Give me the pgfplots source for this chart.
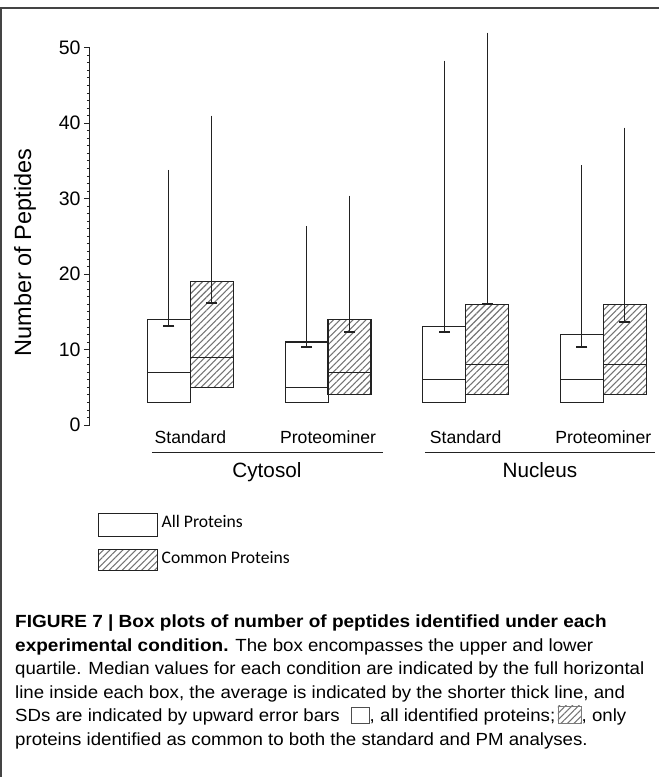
\documentclass[border=0pt]{standalone}
\usepackage{fontspec}
\setmainfont{Liberation Sans}
\newfontfamily\capfont{Liberation Sans}[FakeStretch=1.06]
\newfontfamily\capbold{Liberation Sans Bold}[FakeStretch=1.08]
\newfontfamily\calfont{Carlito}
\usepackage{pgfplots}
\pgfplotsset{compat=1.18}
\usepgfplotslibrary{statistics}
\usetikzlibrary{patterns.meta}
\definecolor{framegray}{HTML}{444444}
\definecolor{hatchgray}{HTML}{747474}
\definecolor{boxline}{HTML}{222222}
\newcommand\capcfg{\capfont\fontsize{17.6}{21}\selectfont}
\newcommand\capbf{\capbold\fontsize{17.6}{21}\selectfont}
\tikzset{hatch/.style={pattern={Lines[angle=45,distance=4.6pt,line width=1.1pt]}, pattern color=hatchgray}}

\begin{document}
\begin{tikzpicture}[x=1pt,y=1pt]
\useasboundingbox (0,0) rectangle (659,777);
\draw[framegray, line width=1.6pt] (1,0) -- (1,769) -- (659,769);
\begin{axis}[
  at={(90pt,352pt)}, anchor=south west,
  scale only axis, width=568.3pt, height=377.3pt,
  xmin=0.27, xmax=4.4, ymin=0, ymax=50,
  clip=false,
  axis x line=none,
  axis y line*=left,
  y axis line style={boxline, line width=1pt},
  ytick={0,10,...,50},
  minor y tick num=9,
  tick align=outside,
  major tick length=6pt, minor tick length=3pt,
  every tick/.style={boxline, line width=0.8pt},
  /pgf/number format/assume math mode=true,
  yticklabel style={font=\fontsize{19.5}{22}\selectfont, text=black},
  boxplot/draw direction=y,
]
% All proteins boxes
\addplot[boxplot/draw direction=y, boxplot prepared={draw position=0.844, lower quartile=3, median=7, upper quartile=14, lower whisker=3, upper whisker=14, box extend=0.3125, whisker extend=0}, draw=boxline, line width=1.1pt, fill=white] coordinates {};
\addplot[boxplot/draw direction=y, boxplot prepared={draw position=1.844, lower quartile=3, median=5, upper quartile=11, lower whisker=3, upper whisker=11, box extend=0.3125, whisker extend=0}, draw=boxline, line width=1.1pt, fill=white] coordinates {};
\addplot[boxplot/draw direction=y, boxplot prepared={draw position=2.844, lower quartile=3, median=6, upper quartile=13, lower whisker=3, upper whisker=13, box extend=0.3125, whisker extend=0}, draw=boxline, line width=1.1pt, fill=white] coordinates {};
\addplot[boxplot/draw direction=y, boxplot prepared={draw position=3.844, lower quartile=3, median=6, upper quartile=12, lower whisker=3, upper whisker=12, box extend=0.3125, whisker extend=0}, draw=boxline, line width=1.1pt, fill=white] coordinates {};
% Common proteins boxes
\addplot[boxplot/draw direction=y, boxplot prepared={draw position=1.156, lower quartile=5, median=9, upper quartile=19, lower whisker=5, upper whisker=19, box extend=0.3125, whisker extend=0}, draw=boxline, line width=1.1pt, hatch] coordinates {};
\addplot[boxplot/draw direction=y, boxplot prepared={draw position=2.156, lower quartile=4, median=7, upper quartile=14, lower whisker=4, upper whisker=14, box extend=0.3125, whisker extend=0}, draw=boxline, line width=1.1pt, hatch] coordinates {};
\addplot[boxplot/draw direction=y, boxplot prepared={draw position=3.156, lower quartile=4, median=8, upper quartile=16, lower whisker=4, upper whisker=16, box extend=0.3125, whisker extend=0}, draw=boxline, line width=1.1pt, hatch] coordinates {};
\addplot[boxplot/draw direction=y, boxplot prepared={draw position=4.156, lower quartile=4, median=8, upper quartile=16, lower whisker=4, upper whisker=16, box extend=0.3125, whisker extend=0}, draw=boxline, line width=1.1pt, hatch] coordinates {};
% means with upward SD error bars
\addplot[only marks, mark=-, mark size=5.5pt, mark options={boxline, line width=2pt},
  error bars/.cd, y dir=plus, y explicit, error mark=-,
  error mark options={boxline, mark size=3pt, line width=1pt},
  error bar style={boxline, line width=1pt}]
coordinates {
(0.844,13.1) +- (0,20.3)
(1.156,16.2) +- (0,24.4)
(1.844,10.3) +- (0,15.7)
(2.156,12.3) +- (0,17.7)
(2.844,12.3) +- (0,35.6)
(3.156,16.1) +- (0,35.5)
(3.844,10.3) +- (0,23.7)
(4.156,13.6) +- (0,25.4)
};
% category labels
\node[anchor=base, inner sep=0pt, font=\fontsize{17.6}{20}\selectfont] at ([yshift=-18.3pt]axis cs:1,0) {Standard};
\node[anchor=base, inner sep=0pt, font=\fontsize{17.6}{20}\selectfont] at ([yshift=-18.3pt]axis cs:2,0) {Proteominer};
\node[anchor=base, inner sep=0pt, font=\fontsize{17.6}{20}\selectfont] at ([yshift=-18.3pt]axis cs:3,0) {Standard};
\node[anchor=base, inner sep=0pt, font=\fontsize{17.6}{20}\selectfont] at ([yshift=-18.3pt]axis cs:4,0) {Proteominer};
\draw[boxline, line width=1.2pt] ([yshift=-27.3pt]axis cs:0.720,0) -- ([yshift=-27.3pt]axis cs:2.399,0);
\draw[boxline, line width=1.2pt] ([yshift=-27.3pt]axis cs:2.704,0) -- ([yshift=-27.3pt]axis cs:4.376,0);
\node[anchor=base, inner sep=0pt, font=\fontsize{20.7}{24}\selectfont] at ([yshift=-53pt]axis cs:1.556,0) {Cytosol};
\node[anchor=base, inner sep=0pt, font=\fontsize{20.7}{24}\selectfont] at ([yshift=-53pt]axis cs:3.540,0) {Nucleus};
\node[rotate=90, inner sep=0pt, font=\fontsize{23.5}{27}\selectfont] at (axis description cs:-0.1144,0.457) {Number of Peptides};
\end{axis}
% legend
\draw[boxline, line width=1pt, fill=white] (98.3,240.3) rectangle (157.7,263);
\node[anchor=base west, inner sep=0pt, font=\calfont\fontsize{17.6}{20}\selectfont] at (161.5,249.5) {All Proteins};
\draw[boxline, line width=1pt, hatch] (98.3,206.3) rectangle (157.7,227.7);
\node[anchor=base west, inner sep=0pt, font=\calfont\fontsize{17.6}{20}\selectfont] at (161.5,213.5) {Common Proteins};
% caption
\node[anchor=base west, inner sep=0pt, font=\capbf] at (15,149) {FIGURE 7 | Box plots of number of peptides identified under each};
\node[anchor=base west, inner sep=0pt, font=\capcfg] at (15,125.5) {{\capbf experimental condition.} The box encompasses the upper and lower};
\node[anchor=base west, inner sep=0pt, font=\capcfg] at (15,102) {quartile. Median values for each condition are indicated by the full horizontal};
\node[anchor=base west, inner sep=0pt, font=\capcfg] at (15,78.5) {line inside each box, the average is indicated by the shorter thick line, and};
\node[anchor=base west, inner sep=0pt, font=\capcfg] (l5a) at (15,55) {SDs are indicated by upward error bars};
\draw[boxline!80, line width=0.9pt] ([shift={(11pt,-1pt)}]l5a.base east) rectangle ++(18pt,16pt);
\node[anchor=base west, inner sep=0pt, font=\capcfg] (l5b) at ([xshift=29.5pt]l5a.base east) {, all identified proteins;};
\draw[boxline!60, line width=0.9pt, hatch] ([shift={(2.5pt,-1pt)}]l5b.base east) rectangle ++(23pt,17pt);
\node[anchor=base west, inner sep=0pt, font=\capcfg] at ([xshift=26pt]l5b.base east) {, only};
\node[anchor=base west, inner sep=0pt, font=\capcfg] at (15,31.5) {proteins identified as common to both the standard and PM analyses.};
\end{tikzpicture}
\end{document}
